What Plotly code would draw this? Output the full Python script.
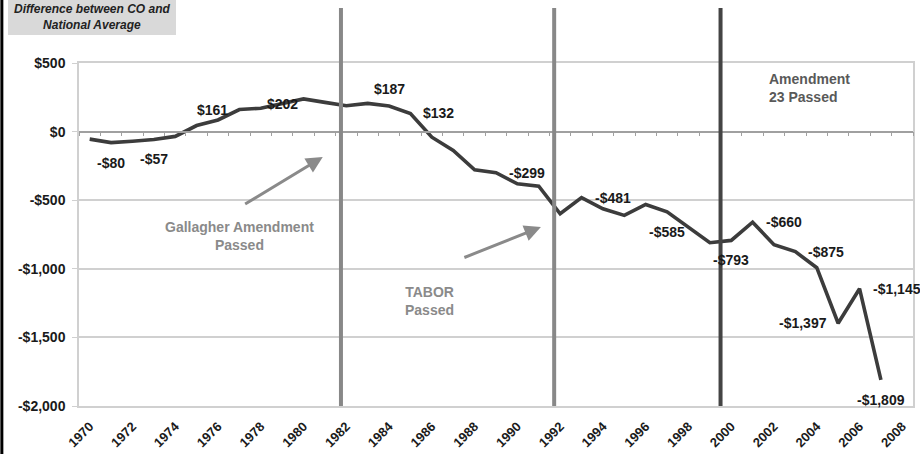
import plotly.graph_objects as go

# ---------------- data ----------------
years = list(range(1970, 2008))
diff = [-55, -80, -70, -57, -35, 44, 85, 161, 170, 202,
        238, 213, 189, 206, 187, 132, -41, -138, -279, -299,
        -381, -398, -599, -481, -563, -611, -531, -585, -696, -810,
        -793, -660, -825, -875, -992, -1397, -1145, -1809]

label_years = [1971, 1973, 1977, 1979, 1984, 1985, 1989, 1993,
               1997, 2000, 2001, 2003, 2005, 2006, 2007]
label_side = ["below", "below", "left", "center", "above", "right", "right", "right",
              "below", "below", "right", "right", "left", "right", "below"]

y_tickvals = [500, 0, -500, -1000, -1500, -2000]
y_ticktext = ["$500", "$0", "-$500", "-$1,000", "-$1,500", "-$2,000"]
x_label_years = list(range(1970, 2009, 2))

event_years = [1982, 1992, 2000]
event_colors = ["#888888", "#888888", "#444444"]
event_offsets = [-0.25, -0.28, -0.5]

FONT = "Liberation Sans, Arial, sans-serif"


def money(v):
    s = "${:,}".format(abs(v))
    return "-" + s if v < 0 else s


fig = go.Figure()
fig.add_trace(go.Scatter(
    x=years, y=diff, mode="lines",
    line=dict(color="#3c3c3c", width=3.6),
    hoverinfo="skip", showlegend=False,
))
# invisible trace to activate the zero-crossing axis
fig.add_trace(go.Scatter(x=[years[0]], y=[0], xaxis="x2", mode="markers",
                         marker=dict(opacity=0), showlegend=False, hoverinfo="skip"))

# data labels
for yr, side in zip(label_years, label_side):
    v = diff[years.index(yr)]
    kw = dict(x=yr, y=v, text="<b>" + money(v) + "</b>", showarrow=False,
              font=dict(family=FONT, size=14, color="#1a1a1a"))
    if side == "below":
        kw.update(yshift=-20)
    elif side == "above":
        kw.update(yshift=17)
    elif side == "right":
        kw.update(xanchor="left", xshift=11)
    elif side == "left":
        kw.update(xanchor="right", xshift=-9)
    fig.add_annotation(**kw)

# event vertical lines
for yr, col, off in zip(event_years, event_colors, event_offsets):
    fig.add_shape(type="line", xref="x", yref="paper",
                  x0=yr + off, x1=yr + off, y0=0, y1=1.16,
                  line=dict(color=col, width=4), layer="above")

# event texts
grey = "#8a8a8a"
fig.add_annotation(x=1977.0, y=-761, text="<b>Gallagher Amendment</b><br><b>Passed</b>",
                   showarrow=False, font=dict(family=FONT, size=14, color=grey))
fig.add_annotation(x=1985.9, y=-1238, text="<b>TABOR</b><br><b>Passed</b>",
                   showarrow=False, font=dict(family=FONT, size=14, color=grey))
fig.add_annotation(x=2001.65, y=318, text="<b>Amendment</b><br><b>23 Passed</b>", align="left",
                   xanchor="left", showarrow=False,
                   font=dict(family=FONT, size=14, color="#595959"))

# arrows
fig.add_annotation(x=1980.9, y=-185, ax=1977.2, ay=-535, axref="x", ayref="y",
                   showarrow=True, arrowhead=2, arrowsize=1.1, arrowwidth=3,
                   arrowcolor=grey, text="")
fig.add_annotation(x=1991.1, y=-695, ax=1987.45, ay=-922, axref="x", ayref="y",
                   showarrow=True, arrowhead=2, arrowsize=1.1, arrowwidth=3,
                   arrowcolor=grey, text="")

# title box (background rectangle + centred text)
fig.add_shape(type="rect", xref="paper", yref="paper",
              x0=-0.0851, x1=0.1163, y0=1.0816, y1=1.19,
              fillcolor="#d9d9d9", line=dict(width=0), layer="below")
fig.add_annotation(xref="paper", yref="paper", x=0.0156, y=1.133,
                   xanchor="center", yanchor="middle", align="center",
                   text="<b><i>Difference between CO and</i></b><br><b><i>National Average</i></b>",
                   showarrow=False,
                   font=dict(family=FONT, size=12, color="#222222"))

# left border of chart
fig.add_shape(type="line", xref="paper", yref="paper", x0=-0.0925, x1=-0.0925,
              y0=-0.2, y1=1.3, line=dict(color="black", width=3))

fig.update_layout(
    width=920, height=454,
    margin=dict(l=79, r=7, t=63, b=48, autoexpand=False),
    paper_bgcolor="white", plot_bgcolor="white",
    font=dict(family=FONT),
    xaxis=dict(range=[1969.5, 2008.5], tickmode="array", tickvals=x_label_years,
               ticktext=[str(y) for y in x_label_years], tickangle=-45,
               tickfont=dict(family=FONT, size=13, color="#1a1a1a", weight="bold"),
               showgrid=False, zeroline=False, showline=True, mirror=True,
               linecolor="#d0d0d0", linewidth=1.5, ticks="", ticklabelstandoff=6,
               automargin=False),
    xaxis2=dict(range=[1969.5, 2008.5], overlaying="x", anchor="free", position=0.8,
                side="bottom", tickmode="array",
                tickvals=[y + 0.5 for y in range(1969, 2009)],
                showticklabels=False, ticks="outside", ticklen=4, tickwidth=1.3,
                tickcolor="#a0a0a0", showline=True, linecolor="#a0a0a0", linewidth=1.6,
                showgrid=False, zeroline=False, automargin=False),
    yaxis=dict(range=[-2000, 500], tickmode="array", tickvals=y_tickvals,
               ticktext=y_ticktext,
               tickfont=dict(family=FONT, size=14, color="#1a1a1a", weight="bold"),
               showgrid=True, gridcolor="#d0d0d0", gridwidth=1.5, zeroline=False,
               showline=True, mirror=True, linecolor="#d0d0d0", linewidth=1.5,
               ticks="outside", ticklen=5, tickcolor="#d0d0d0", ticklabelstandoff=4,
               automargin=False),
)

fig.write_html("out.html", config={"displayModeBar": False},
               post_script="document.body.style.margin='0';")
